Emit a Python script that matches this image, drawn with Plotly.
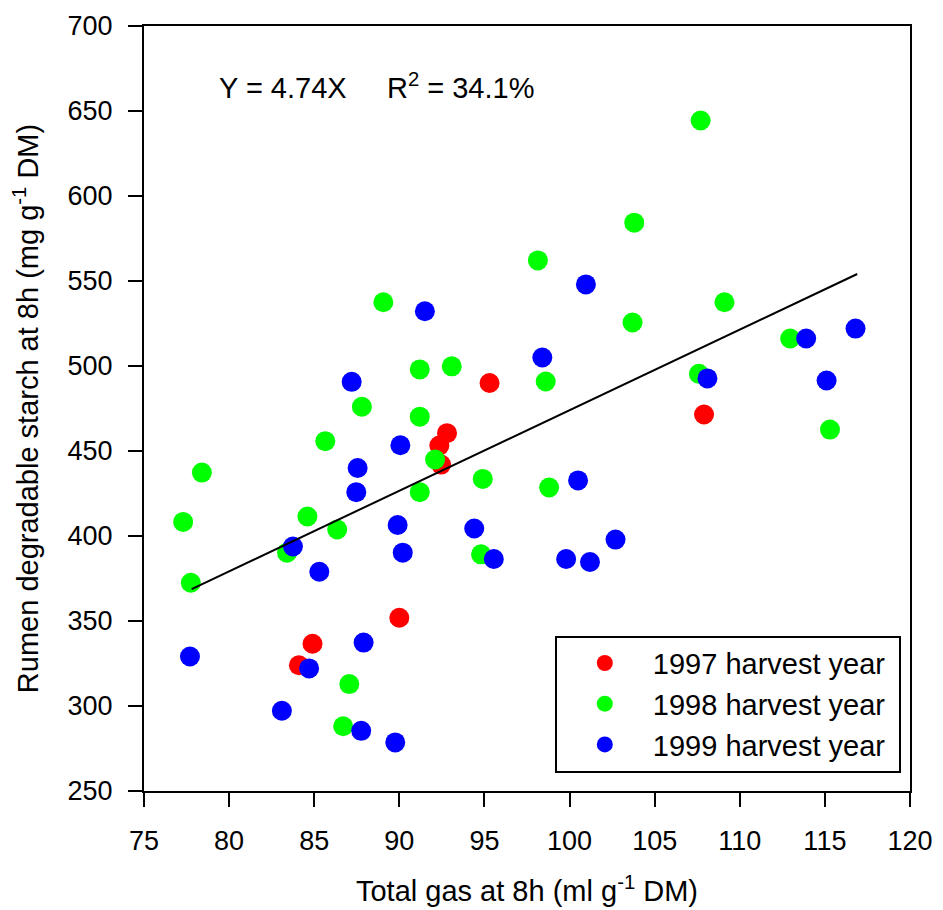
import plotly.graph_objects as go

# 1997 harvest year
x_1997 = [92.8, 92.35, 92.45, 95.3, 90.0, 84.9, 84.1, 107.9]
y_1997 = [460.5, 453.2, 442.0, 490.0, 351.9, 336.6, 324.0, 471.5]

# 1998 harvest year
x_1998 = [87.8, 91.2, 92.1, 85.65, 78.4, 91.2, 94.9, 77.3, 84.6, 86.35, 83.4, 94.8,
          77.75, 87.06, 86.7, 103.7, 109.1, 91.2, 93.08, 98.6, 107.6, 98.8, 107.7,
          103.8, 112.96, 115.3, 89.06, 98.14]
y_1998 = [476.0, 470.2, 445.0, 455.8, 437.3, 425.8, 433.6, 408.3, 411.5, 403.8, 390.2, 389.2,
          372.5, 312.9, 288.1, 525.6, 537.5, 498.0, 499.8, 490.9, 495.4, 428.5, 644.4,
          584.3, 516.2, 462.6, 537.5, 562.1]

# 1999 harvest year
x_1999 = [87.2, 90.06, 87.55, 87.47, 89.9, 94.4, 83.75, 90.2, 85.3, 77.7, 87.9, 84.7,
          83.1, 87.76, 89.76, 91.5, 98.4, 108.1, 100.5, 102.7, 95.55, 99.8, 101.2,
          100.96, 113.9, 116.8, 115.1]
y_1999 = [490.7, 453.4, 440.0, 425.8, 406.5, 404.4, 393.8, 390.2, 379.0, 329.1, 337.3, 322.1,
          297.2, 285.4, 278.6, 532.2, 505.0, 492.7, 432.7, 397.9, 386.5, 386.5, 384.7,
          548.0, 516.2, 522.0, 491.5]

# Regression through origin
slope = 4.74
fit_x = [77.8, 116.9]
fit_y = [slope * v for v in fit_x]

series = [
    ("1997 harvest year\u00a0", x_1997, y_1997, "#FF0000"),
    ("1998 harvest year\u00a0", x_1998, y_1998, "#00FF00"),
    ("1999 harvest year\u00a0", x_1999, y_1999, "#0000FF"),
]

FONT = "Liberation Sans, Arial, sans-serif"

fig = go.Figure()
for name, xs, ys, col in series:
    fig.add_trace(go.Scatter(x=xs, y=ys, mode="markers", name=name,
                             marker=dict(color=col, size=20, line=dict(width=0))))

fig.add_trace(go.Scatter(x=fit_x, y=fit_y, mode="lines", showlegend=False,
                         line=dict(color="black", width=2)))

fig.add_annotation(x=79.3, y=664.5, xref="x", yref="y", xanchor="left", yanchor="middle",
                   text="Y = 4.74X &nbsp;&nbsp;&nbsp;&nbsp;R<sup>2</sup> = 34.1%", showarrow=False,
                   font=dict(family=FONT, size=29, color="black"))

axis_common = dict(showline=True, linecolor="black", linewidth=2, mirror=True,
                   ticks="outside", ticklen=14, tickwidth=2, tickcolor="black",
                   showgrid=False, zeroline=False, automargin=False,
                   tickfont=dict(family=FONT, size=27, color="black"))

fig.update_xaxes(range=[75, 120], tickmode="linear", tick0=75, dtick=5,
                 ticklabelstandoff=11,
                 title=dict(text="Total gas at 8h (ml g<sup>-1</sup> DM)",
                            font=dict(family=FONT, size=29, color="black"), standoff=25),
                 **axis_common)
fig.update_yaxes(range=[250, 700], tickmode="linear", tick0=250, dtick=50,
                 ticklabelstandoff=10,
                 title=dict(text="Rumen degradable starch at 8h (mg g<sup>-1</sup> DM)",
                            font=dict(family=FONT, size=29, color="black"), standoff=20),
                 **axis_common)

fig.update_layout(
    width=943, height=910,
    margin=dict(l=144, r=33, t=26, b=119, autoexpand=False),
    paper_bgcolor="white", plot_bgcolor="white",
    showlegend=True,
    legend=dict(x=0.988, y=0.024, xanchor="right", yanchor="bottom",
                bgcolor="white", bordercolor="black", borderwidth=2,
                font=dict(family=FONT, size=29, color="black"),
                itemwidth=86, tracegroupgap=0),
)

fig.write_html("out.html")
